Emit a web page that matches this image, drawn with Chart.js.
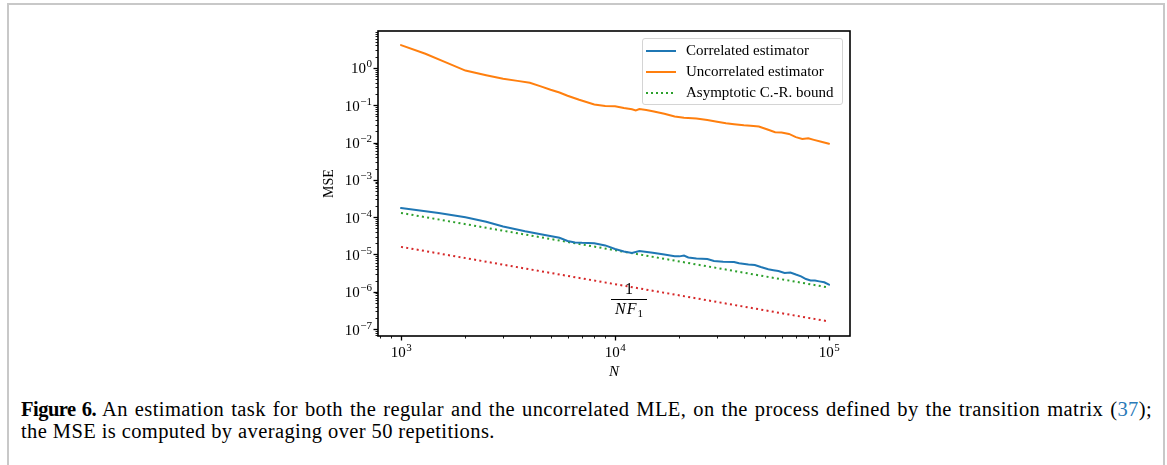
<!DOCTYPE html>
<html>
<head>
<meta charset="utf-8">
<script src="https://cdn.jsdelivr.net/npm/chart.js@4.4.1/dist/chart.umd.min.js"></script>
<style>
  html, body { margin: 0; padding: 0; background: #fff; }
  body { width: 1167px; height: 465px; position: relative; overflow: hidden; font-family: "Liberation Serif", "DejaVu Serif", serif; color: #000; }
  #frame { position: absolute; left: 7px; top: 3px; width: 1158px; height: 480px; border: 2px solid #c8c8c8; border-bottom: none; box-sizing: border-box; }
  #wrap { position: absolute; left: 0; top: 0; width: 1167px; height: 390px; }
  #legend { position: absolute; left: 642px; top: 38px; width: 201px; height: 67px; border: 1px solid #d4d4d4; border-radius: 3px; background: rgba(255,255,255,0.85); box-sizing: border-box; }
  .row { position: absolute; left: 0; width: 100%; height: 20px; font-size: 15px; line-height: 20px; }
  .sample { position: absolute; left: 3px; top: 10px; width: 30px; height: 2px; }
  .lbl { position: absolute; left: 43px; top: 0; white-space: nowrap; }
  #frac { position: absolute; left: 609px; top: 281px; width: 40px; text-align: center; font-size: 16px; line-height: 16px; }
  #frac .den { border-top: 1px solid #000; margin: 2px 2px 0; padding-top: 1px; letter-spacing: 1px; }
  #frac sub { font-size: 11px; vertical-align: -3px; letter-spacing: 0; }
  .cap { position: absolute; left: 21px; font-size: 20.5px; line-height: 22px; letter-spacing: 0.4px; white-space: nowrap; }
  .cap b { letter-spacing: -0.5px; }
  #cap1 { top: 398px; width: 1131px; text-align: justify; text-align-last: justify; white-space: normal; }
  #cap2 { top: 420px; }
  .ref { color: #2a7ab8; }
</style>
</head>
<body>
<div id="frame"></div>
<div id="wrap"><canvas id="chart" width="1167" height="390"></canvas></div>

<div id="legend">
  <div class="row" style="top:1px"><div class="sample" style="background:#1f77b4"></div><span class="lbl">Correlated estimator</span></div>
  <div class="row" style="top:22px"><div class="sample" style="background:#ff7f0e"></div><span class="lbl">Uncorrelated estimator</span></div>
  <div class="row" style="top:43px"><div class="sample" style="background:repeating-linear-gradient(90deg,#2ca02c 0 2px,transparent 2px 5px)"></div><span class="lbl">Asymptotic C.-R. bound</span></div>
</div>

<div id="frac"><div>1</div><div class="den"><i>NF</i><sub>1</sub></div></div>

<div id="cap1" class="cap"><b>Figure 6.</b> An estimation task for both the regular and the uncorrelated MLE, on the process defined by the transition matrix (<span class="ref">37</span>);</div>
<div id="cap2" class="cap">the MSE is computed by averaging over 50 repetitions.</div>

<script>
// sample sizes and MSE values
const nUncorr = [1000, 1300, 1600, 2000, 2500, 3000, 3500, 4000, 4500, 5000, 5500, 6000, 6800, 8000, 9000, 10000, 11000, 12000, 12500, 13000, 14000, 15000, 17000, 19000, 21000, 24000, 27000, 30000, 33000, 36000, 40000, 43000, 47000, 52000, 56000, 60000, 65000, 70000, 75000, 80000, 85000, 92000, 100000];
const mseUncorr = [4.1, 2.4, 1.45, 0.85, 0.64, 0.51, 0.45, 0.4, 0.32, 0.26, 0.22, 0.18, 0.14, 0.105, 0.096, 0.094, 0.084, 0.078, 0.073, 0.079, 0.075, 0.069, 0.059, 0.05, 0.046, 0.044, 0.04, 0.036, 0.033, 0.031, 0.029, 0.028, 0.027, 0.022, 0.019, 0.0185, 0.017, 0.014, 0.0125, 0.013, 0.0118, 0.0105, 0.0093];

const nCorr = [1000, 1500, 2000, 2500, 3000, 3800, 4500, 5500, 6000, 6500, 7000, 8000, 9000, 10000, 11000, 12000, 13000, 15000, 17000, 19000, 20000, 21000, 22000, 24000, 27000, 29000, 32000, 36000, 38000, 42000, 45000, 48000, 52000, 55000, 58000, 62000, 66000, 70000, 74000, 78000, 82000, 86000, 90000, 95000, 100000];
const mseCorr = [1.75e-4, 1.3e-4, 1.0e-4, 7.5e-5, 5.6e-5, 4.2e-5, 3.5e-5, 2.8e-5, 2.3e-5, 2.1e-5, 2.05e-5, 2.0e-5, 1.75e-5, 1.4e-5, 1.2e-5, 1.1e-5, 1.24e-5, 1.12e-5, 1.0e-5, 9.0e-6, 8.9e-6, 9.4e-6, 8.3e-6, 7.8e-6, 7.6e-6, 6.7e-6, 6.4e-6, 6.3e-6, 5.8e-6, 5.4e-6, 5.2e-6, 4.6e-6, 4.0e-6, 3.8e-6, 3.6e-6, 3.2e-6, 3.3e-6, 2.9e-6, 2.6e-6, 2.2e-6, 2.0e-6, 2.0e-6, 1.9e-6, 1.8e-6, 1.55e-6];

const nBound = [1000, 100000];
const mseCRBound = [1.3e-4, 1.3e-6];     // asymptotic C.-R. bound (green)
const mseFisherBound = [1.6e-5, 1.6e-7]; // 1/(N F1) (red)

// tick labels as base + exponent, drawn mathtext-style
const xTickValues = [1e3, 1e4, 1e5];
const xTickExps = ['3', '4', '5'];
const yTickValues = [1e0, 1e-1, 1e-2, 1e-3, 1e-4, 1e-5, 1e-6, 1e-7];
const yTickExps = ['0', '\u22121', '\u22122', '\u22123', '\u22124', '\u22125', '\u22126', '\u22127'];

const FONT = '"Liberation Serif", "DejaVu Serif", serif';
const BASE_FONT = '15px ' + FONT;
const EXP_FONT = '11px ' + FONT;

function pts(xs, ys){
  return xs.map((x, i) => ({x: x, y: ys[i]}));
}

// majors at decades, minors at 2..9 x decade
function logTicks(min, max){
  const out = [];
  for(let k = Math.floor(Math.log10(min)); k <= Math.ceil(Math.log10(max)); k++){
    for(let m = 1; m <= 9; m++){
      const v = m * Math.pow(10, k);
      if(v >= min && v <= max) out.push({v: v, major: m === 1});
    }
  }
  return out;
}

// frame box, outward tick marks and power-of-ten labels like matplotlib
const framePlugin = {
  id: 'frame',
  afterDraw(chart){
    const {ctx, chartArea: a, scales: {x, y}} = chart;
    ctx.save();
    ctx.strokeStyle = '#000';
    ctx.fillStyle = '#000';
    for(const t of logTicks(x.min, x.max)){
      const px = Math.round(x.getPixelForValue(t.v)) + 0.5;
      ctx.lineWidth = t.major ? 1.3 : 0.9;
      ctx.beginPath();
      ctx.moveTo(px, a.bottom);
      ctx.lineTo(px, a.bottom + (t.major ? 4.5 : 2.5));
      ctx.stroke();
    }
    for(const t of logTicks(y.min, y.max)){
      const py = Math.round(y.getPixelForValue(t.v)) + 0.5;
      ctx.lineWidth = t.major ? 1.3 : 0.9;
      ctx.beginPath();
      ctx.moveTo(a.left, py);
      ctx.lineTo(a.left - (t.major ? 4.5 : 2.5), py);
      ctx.stroke();
    }
    ctx.lineWidth = 1.6;
    ctx.strokeRect(a.left, a.top, a.right - a.left, a.bottom - a.top);

    ctx.textBaseline = 'alphabetic';
    ctx.textAlign = 'left';
    xTickValues.forEach((v, i) => {
      const px = x.getPixelForValue(v);
      ctx.font = BASE_FONT;
      const wb = ctx.measureText('10').width;
      ctx.font = EXP_FONT;
      const we = ctx.measureText(xTickExps[i]).width;
      const x0 = px - (wb + we) / 2;
      ctx.font = BASE_FONT;
      ctx.fillText('10', x0, a.bottom + 21);
      ctx.font = EXP_FONT;
      ctx.fillText(xTickExps[i], x0 + wb + 0.5, a.bottom + 15);
    });
    yTickValues.forEach((v, i) => {
      const py = y.getPixelForValue(v);
      ctx.font = EXP_FONT;
      const we = ctx.measureText(yTickExps[i]).width;
      const xe = a.left - 6 - we;
      ctx.fillText(yTickExps[i], xe, py - 0.5);
      ctx.font = BASE_FONT;
      const wb = ctx.measureText('10').width;
      ctx.fillText('10', xe - 0.5 - wb, py + 5.5);
    });
    ctx.restore();
  }
};

const ctx = document.getElementById('chart').getContext('2d');
new Chart(ctx, {
  type: 'line',
  data: {
    datasets: [
      { label: 'Correlated estimator', data: pts(nCorr, mseCorr), borderColor: '#1f77b4', borderWidth: 2, borderCapStyle: 'round' },
      { label: 'Uncorrelated estimator', data: pts(nUncorr, mseUncorr), borderColor: '#ff7f0e', borderWidth: 2, borderCapStyle: 'round' },
      { label: 'Asymptotic C.-R. bound', data: pts(nBound, mseCRBound), borderColor: '#2ca02c', borderWidth: 2, borderDash: [2, 3.3], borderCapStyle: 'butt' },
      { label: '1/NF1', data: pts(nBound, mseFisherBound), borderColor: '#d62728', borderWidth: 2, borderDash: [2, 3.3], borderCapStyle: 'butt' }
    ]
  },
  options: {
    responsive: false,
    animation: false,
    layout: { padding: { left: 318, right: 317, top: 31, bottom: 4 } },
    plugins: { legend: { display: false }, tooltip: { enabled: false } },
    elements: { point: { radius: 0 }, line: { tension: 0, fill: false } },
    scales: {
      x: {
        type: 'logarithmic',
        min: Math.pow(10, 2.8925),
        max: Math.pow(10, 5.098),
        afterBuildTicks: s => { s.ticks = xTickValues.map(v => ({value: v})); },
        afterFit: s => { s.height = 50; },
        grid: { display: false, drawTicks: false },
        border: { display: false },
        ticks: { display: false },
        title: { display: true, text: 'N', color: '#000', font: { family: FONT, size: 15, style: 'italic' }, padding: { top: 0, bottom: 5 } }
      },
      y: {
        type: 'logarithmic',
        min: Math.pow(10, -7.185),
        max: Math.pow(10, 0.99),
        afterBuildTicks: s => { s.ticks = yTickValues.map(v => ({value: v})); },
        afterFit: s => { s.width = 60; },
        grid: { display: false, drawTicks: false },
        border: { display: false },
        ticks: { display: false },
        title: { display: true, text: 'MSE', color: '#000', font: { family: FONT, size: 14 }, padding: { top: 3, bottom: 0 } }
      }
    }
  },
  plugins: [framePlugin]
});
</script>
</body>
</html>
